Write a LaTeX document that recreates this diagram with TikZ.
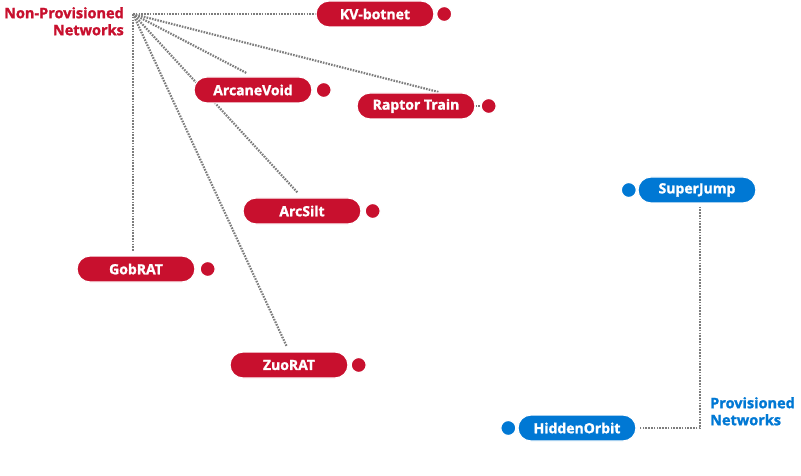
\documentclass[tikz,border=0pt]{standalone}
\usepackage{fontspec}
\setmainfont{Open Sans}[BoldFeatures={FakeBold=1.4}]
\usepackage{xcolor}
\usetikzlibrary{positioning, backgrounds, calc}

\definecolor{npred}{RGB}{200,16,46}
\definecolor{pvblue}{RGB}{0,120,212}
\definecolor{linkgray}{RGB}{125,125,125}

\tikzset{
  pill/.style={draw=white, line width=1.2pt, rounded corners=13pt, minimum width=118pt,
    minimum height=26pt, inner sep=0pt, text=white, font=\fontsize{14}{16}\selectfont\bfseries},
  redpill/.style={pill, fill=npred},
  bluepill/.style={pill, fill=pvblue},
  reddot/.style={circle, draw=white, line width=1.2pt, fill=npred, minimum size=15pt, inner sep=0pt},
  bluedot/.style={reddot, fill=pvblue},
  link/.style={linkgray, line width=2.2pt, dash pattern=on 1.6pt off 1.2pt},
  netlabel/.style={font=\fontsize{14.5}{17}\selectfont\bfseries, inner sep=0pt},
}

\begin{document}
\begin{tikzpicture}[x=1pt, y=-1pt]
    \useasboundingbox (0,0) rectangle (801,476);

    % non-provisioned side
    \node[netlabel, npred, anchor=north east, align=right] (nplabel) at (124,7) {Non-Provisioned\\Networks};

    \node[redpill] (kv) at (375,14) {KV-botnet};
    \node[reddot, right=1.5pt of kv] (kvdot) {};
    \node[redpill] (arcanevoid) at (253,90) {ArcaneVoid};
    \node[reddot, right=3pt of arcanevoid] (arcanevoiddot) {};
    \node[redpill] (raptor) at (416,106) {Raptor Train};
    \node[reddot, right=5pt of raptor] (raptordot) {};
    \node[redpill] (arcsilt) at (302,211) {ArcSilt};
    \node[reddot, right=3pt of arcsilt] (arcsiltdot) {};
    \node[redpill] (gobrat) at (136,269) {GobRAT};
    \node[reddot, right=4pt of gobrat] (gobratdot) {};
    \node[redpill] (zuorat) at (289,365) {ZuoRAT};
    \node[reddot, right=2pt of zuorat] (zuoratdot) {};

    % provisioned side
    \node[bluepill] (superjump) at (697,190) {SuperJump};
    \node[bluedot, left=0.5pt of superjump] (superjumpdot) {};
    \node[bluepill] (hiddenorbit) at (577,428) {HiddenOrbit};
    \node[bluedot, left=1pt of hiddenorbit] (hiddenorbitdot) {};
    \node[netlabel, pvblue, anchor=north west, align=left] (pvlabel) at (710,397) {Provisioned\\Networks};

    \begin{scope}[on background layer]
        \fill[white] (0,0) rectangle (801,476);
        \coordinate (hub) at (133,14);
        \draw[link] (hub) -- (kv.west);
        \draw[link, shorten >=1pt] (hub) -- ([xshift=24pt]raptor.north);
        \draw[link, shorten >=7pt] (hub) -- (arcanevoid.north);
        \draw[link, shorten >=6pt] (hub) -- (arcsilt.north);
        \draw[link, shorten >=5pt] (hub) -- (zuorat.north);
        \draw[link, shorten >=4pt] (hub) -- (hub |- gobrat.north);
        \draw[link] (raptor.east) -- (raptordot.west);
        \draw[link, shorten <=3pt, shorten >=3pt] ([xshift=3pt]superjump.south) |- (hiddenorbit.east);
    \end{scope}
\end{tikzpicture}
\end{document}
